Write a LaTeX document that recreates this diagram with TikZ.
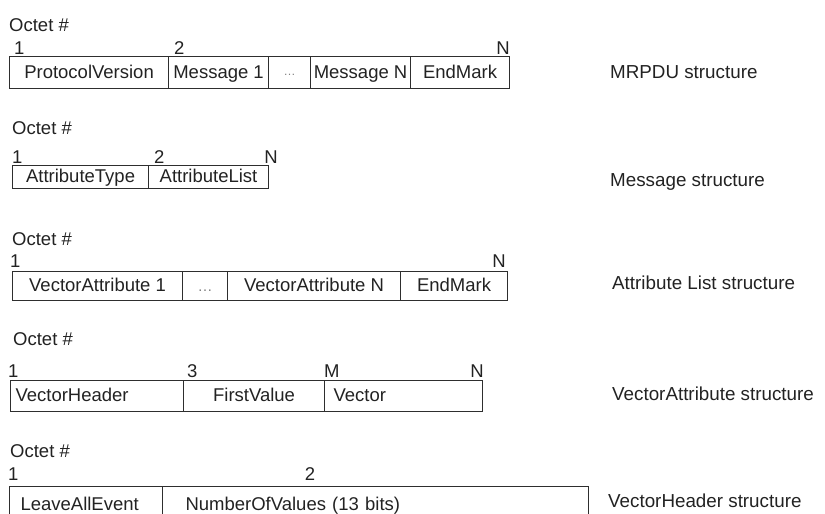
\documentclass[tikz,border=0pt]{standalone}
\usepackage{fontspec}
\setmainfont{Liberation Sans}
\definecolor{ink}{HTML}{222222}
\definecolor{rule}{HTML}{2E2E2E}
\begin{document}
\begin{tikzpicture}[
  x={(1pt,0pt)}, y={(0pt,-1pt)},
  every node/.style={text=ink, font=\fontsize{18.5}{22}\selectfont},
  field/.style={draw=rule, line width=1.1pt, anchor=north west, inner sep=0pt,
                text height=13.3pt, text depth=2pt},
  lfield/.style={field, align=left, inner xsep=#1},
  tag/.style={inner sep=0pt},
  caption/.style={tag, anchor=base west, font=\fontsize{18.8}{22}\selectfont},
  dots/.style={text=gray}
]
\useasboundingbox (0,0) rectangle (825,514);
\clip (0,0) rectangle (825,514);

% ---------- MRPDU ----------
\node[tag, anchor=base west] (o1) at (9,31) {Octet \#};
\node[tag, anchor=base west] (n1a) at (14,54) {1};
\node[tag, anchor=base west] (n1b) at (174,54) {2};
\node[tag, anchor=base east] (n1c) at (510,54) {N};
\node[field, minimum width=159pt, minimum height=32pt] (pv) at (9,56) {ProtocolVersion};
\node[field, minimum width=100pt, minimum height=32pt] (m1) at (168,56) {Message 1};
\node[field, minimum width=42pt, minimum height=32pt, dots] (d1) at (268,56)
  {\fontsize{12}{14}\selectfont\raisebox{3pt}{…}};
\node[field, minimum width=100pt, minimum height=32pt] (mn) at (310,56) {Message N};
\node[field, minimum width=99pt, minimum height=32pt] (em1) at (410,56) {EndMark};
\node[caption] (l1) at (610,78.5) {MRPDU structure};

% ---------- Message ----------
\node[tag, anchor=base west] (o2) at (12,134) {Octet \#};
\node[tag, anchor=base west] (n2a) at (12,163) {1};
\node[tag, anchor=base west] (n2b) at (154,163) {2};
\node[tag, anchor=base east] (n2c) at (278,163) {N};
\node[field, minimum width=136pt, minimum height=23pt] (at) at (12,165) {AttributeType};
\node[field, minimum width=120pt, minimum height=23pt] (al) at (148,165) {AttributeList};
\node[caption] (l2) at (610,186.5) {Message structure};

% ---------- Attribute List ----------
\node[tag, anchor=base west] (o3) at (12,245) {Octet \#};
\node[tag, anchor=base west] (n3a) at (10,267) {1};
\node[tag, anchor=base east] (n3c) at (506,267) {N};
\node[field, minimum width=170pt, minimum height=29pt] (va1) at (12,271) {VectorAttribute 1};
\node[field, minimum width=45pt, minimum height=29pt, dots] (d3) at (182,271)
  {\fontsize{15}{17}\selectfont …};
\node[field, minimum width=173pt, minimum height=29pt] (van) at (227,271) {VectorAttribute N};
\node[field, minimum width=107pt, minimum height=29pt] (em3) at (400,271) {EndMark};
\node[caption] (l3) at (612,289.5) {Attribute List structure};

% ---------- VectorAttribute ----------
\node[tag, anchor=base west] (o4) at (13,345) {Octet \#};
\node[tag, anchor=base west] (n4a) at (8,377) {1};
\node[tag, anchor=base west] (n4b) at (187,377) {3};
\node[tag, anchor=base west] (n4c) at (324,377) {M};
\node[tag, anchor=base east] (n4d) at (484,377) {N};
\node[lfield=5pt, text width=163pt, minimum height=31pt] (vh) at (10,380) {VectorHeader};
\node[field, minimum width=141pt, minimum height=31pt] (fv) at (183,380) {FirstValue};
\node[lfield=9pt, text width=140pt, minimum height=31pt] (vec) at (324,380) {Vector};
\node[caption] (l4) at (612,400) {VectorAttribute structure};

% ---------- VectorHeader ----------
\node[tag, anchor=base west] (o5) at (10,457) {Octet \#};
\node[tag, anchor=base west] (n5a) at (8,480) {1};
\node[tag, anchor=base] (n5b) at (310,480) {2};
\node[lfield=11pt, text width=131pt, minimum height=36pt] (lae) at (9,486) {LeaveAllEvent};
\node[lfield=23pt, text width=380pt, minimum height=36pt] (nov) at (162,486) {NumberOfValues (13 bits)};
\node[caption] (l5) at (608,507) {VectorHeader structure};
\end{tikzpicture}
\end{document}
